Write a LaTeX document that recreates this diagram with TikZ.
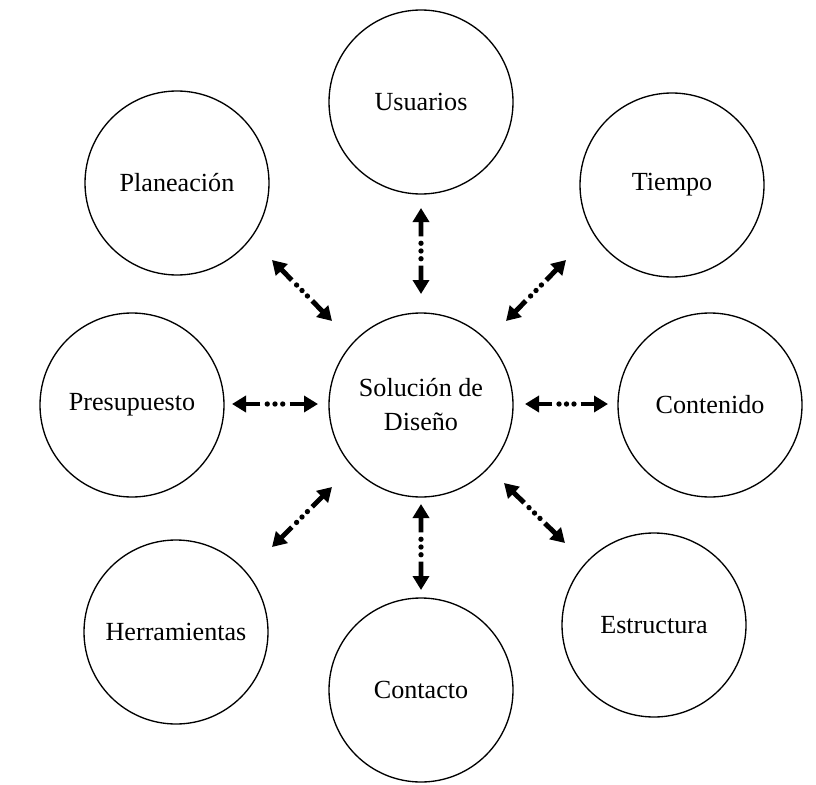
\documentclass[tikz,border=0pt]{standalone}
\usepackage{fontspec}
\setmainfont{Liberation Serif}
\usetikzlibrary{arrows.meta,calc}
\tikzset{
  bub/.style={circle,draw,line width=1pt,minimum size=138pt,inner sep=0pt,align=center,
    font=\fontsize{19.6}{25.5}\selectfont},
  arrshaft/.style={line width=3.7pt,-{Triangle[length=10.5pt,width=12pt]}},
  dotf/.style={fill=black}
}
\newcommand\dotarr[2]{%
  \draw[arrshaft] ($(#1)!0.33!(#2)$) -- (#1);
  \draw[arrshaft] ($(#1)!0.67!(#2)$) -- (#2);
  \foreach \t in {0.41,0.5,0.59} \fill[dotf] ($(#1)!\t!(#2)$) circle (2pt);
}
\begin{document}
\begin{tikzpicture}[x=0.75pt,y=-0.75pt]
\useasboundingbox (0,0) rectangle (816,784);
\node[bub] (sol) at (421,405) {Solución de\\Diseño};
\node[bub] (usu) at (421,102) {Usuarios};
\node[bub] (pla) at (177,183) {Planeación};
\node[bub] (tie) at (672,185) {Tiempo};
\node[bub] (pre) at (132,405) {Presupuesto};
\node[bub] (con) at (710,405) {Contenido};
\node[bub] (her) at (176,632) {Herramientas};
\node[bub] (cto) at (421,690) {Contacto};
\node[bub] (est) at (654,625) {Estructura};
% arrow end points
\coordinate (n1) at (421,208); \coordinate (n2) at (421,294);
\coordinate (s1) at (421,504); \coordinate (s2) at (421,590);
\coordinate (w1) at (232,404); \coordinate (w2) at (318,404);
\coordinate (e1) at (525,404); \coordinate (e2) at (608,404);
\coordinate (nw1) at (272,260); \coordinate (nw2) at (332,321);
\coordinate (ne1) at (566,260); \coordinate (ne2) at (506,321);
\coordinate (sw1) at (332,487); \coordinate (sw2) at (272,547);
\coordinate (se1) at (504,483); \coordinate (se2) at (565,543);
\dotarr{n1}{n2}
\dotarr{s1}{s2}
\dotarr{w1}{w2}
\dotarr{e1}{e2}
\dotarr{nw1}{nw2}
\dotarr{ne1}{ne2}
\dotarr{sw1}{sw2}
\dotarr{se1}{se2}
\end{tikzpicture}
\end{document}
